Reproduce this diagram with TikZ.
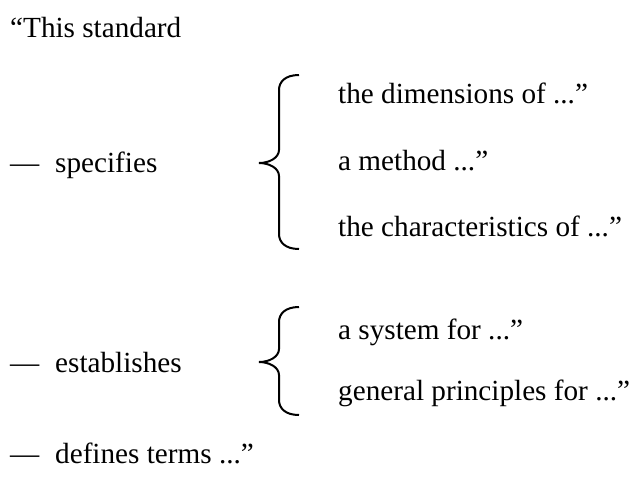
\documentclass[tikz,border=0pt]{standalone}
\usepackage{fontspec}
\setmainfont{Liberation Serif}
\newcommand{\itemdash}{\makebox[45pt][l]{—}}
% brace: #1 top y, #2 tip y, #3 bottom y
\newcommand{\sidebrace}[3]{%
  \draw[bracestroke] (299,#1) .. controls +(-14,0) and +(0,-8) .. (279,#1+15)
    -- (279,#2-13) .. controls +(0,8) and +(10,0) .. (259,#2)
    .. controls +(10,0) and +(0,-8) .. (279,#2+13)
    -- (279,#3-15) .. controls +(0,8) and +(-14,0) .. (299,#3);}
\tikzset{
  phrase/.style={anchor=base west,inner sep=0pt,font=\fontsize{29.2}{35}\selectfont},
  bracestroke/.style={line width=2pt}
}
\begin{document}
\begin{tikzpicture}[x=1pt,y=-1pt]
\useasboundingbox (0,0) rectangle (631,477);
\node[phrase] (intro) at (10,37) {“This standard}; % opening
\node[phrase] (specifies) at (10,172) {\itemdash specifies};
\sidebrace{75}{163}{249}
\node[phrase] (dimensions) at (338,103) {the dimensions of ...”};
\node[phrase] (method) at (338,170) {a method ...”};
\node[phrase] (characteristics) at (338,236) {the characteristics of ...”};
\node[phrase] (establishes) at (10,372) {\itemdash establishes};
\sidebrace{307}{362}{415}
\node[phrase] (system) at (338,339) {a system for ...”};
\node[phrase] (principles) at (338,400) {general principles for ...”};
\node[phrase] (defines) at (10,463) {\itemdash defines terms ...”};
\end{tikzpicture}
\end{document}
